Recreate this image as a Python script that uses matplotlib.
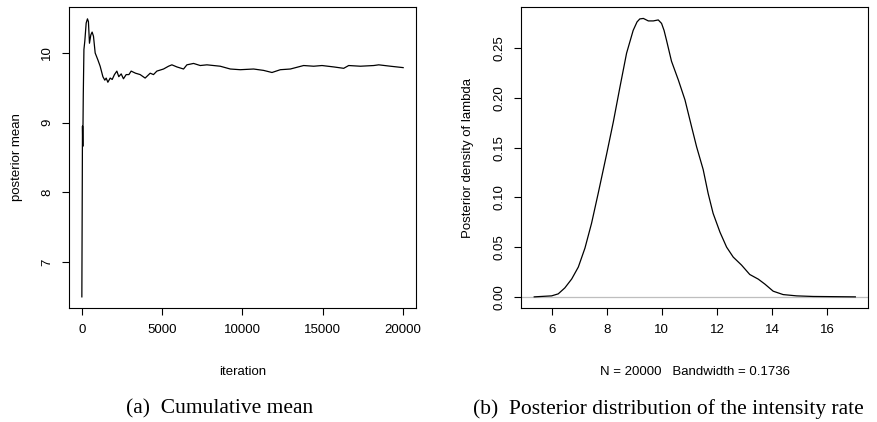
import matplotlib
matplotlib.use("Agg")
import matplotlib.pyplot as plt

# (a) cumulative posterior mean
iterations = [1, 40, 60, 90, 130, 185, 270, 350, 410, 475, 560, 640, 725, 830,
              1000, 1140, 1310, 1430, 1515, 1620, 1765, 1890, 2030, 2180, 2300,
              2450, 2590, 2760, 2930, 3070, 3340, 3630, 3940, 4255, 4460, 4670,
              5085, 5395, 5605, 5915, 6330, 6540, 6955, 7370, 7785, 8200, 8615,
              9240, 9860, 10690, 11315, 11835, 12355, 12980, 13805, 14430,
              14950, 15675, 16300, 16610, 17340, 18170, 18480, 19210, 20000]
cum_mean = [6.50, 8.95, 8.66, 9.40, 10.05, 10.17, 10.43, 10.49, 10.45, 10.14,
            10.26, 10.30, 10.24, 10.00, 9.90, 9.81, 9.66, 9.61, 9.64, 9.58,
            9.64, 9.62, 9.69, 9.74, 9.66, 9.70, 9.63, 9.69, 9.69, 9.74, 9.71,
            9.69, 9.64, 9.71, 9.69, 9.74, 9.77, 9.81, 9.83, 9.80, 9.77, 9.83,
            9.85, 9.82, 9.83, 9.82, 9.81, 9.77, 9.76, 9.77, 9.75, 9.72, 9.76,
            9.77, 9.82, 9.81, 9.82, 9.80, 9.78, 9.82, 9.81, 9.82, 9.83, 9.81,
            9.79]

# (b) posterior density of lambda
lam = [5.37, 6.00, 6.24, 6.48, 6.73, 6.97, 7.21, 7.45, 7.69, 8.00, 8.24, 8.48,
       8.72, 8.96, 9.10, 9.20, 9.33, 9.51, 9.69, 9.87, 9.99, 10.08, 10.17,
       10.35, 10.60, 10.84, 11.08, 11.26, 11.50, 11.68, 11.86, 12.11, 12.35,
       12.59, 12.89, 13.19, 13.50, 13.74, 14.04, 14.40, 14.89, 15.49, 17.02]
dens = [0.0, 0.001, 0.003, 0.009, 0.018, 0.030, 0.049, 0.074, 0.104, 0.144,
        0.176, 0.211, 0.245, 0.268, 0.2765, 0.2795, 0.2800, 0.2775, 0.2775,
        0.2785, 0.275, 0.268, 0.258, 0.237, 0.218, 0.198, 0.171, 0.151,
        0.128, 0.104, 0.084, 0.065, 0.050, 0.040, 0.032, 0.0225, 0.0178,
        0.0128, 0.0057, 0.0023, 0.001, 0.0004, 0.0]

x_ticks_a = [0, 5000, 10000, 15000, 20000]
y_ticks_a = [7, 8, 9, 10]
x_ticks_b = [6, 8, 10, 12, 14, 16]
y_ticks_b = [0.00, 0.05, 0.10, 0.15, 0.20, 0.25]

plt.rcParams['font.family'] = ['Liberation Sans', 'DejaVu Sans']
plt.rcParams['font.size'] = 9.5

fig = plt.figure(figsize=(8.78, 4.22), dpi=100)
ax1 = fig.add_axes([69 / 878, 1 - 308 / 422, 347 / 878, 301 / 422])
ax2 = fig.add_axes([521 / 878, 1 - 308 / 422, 347 / 878, 301 / 422])


def r_style(ax):
    for s in ax.spines.values():
        s.set_linewidth(0.8)
        s.set_color('black')
    ax.tick_params(direction='out', length=5, width=0.8, pad=6.5)
    for lab in ax.get_yticklabels():
        lab.set_rotation(90)
        lab.set_va('center')


ax1.plot(iterations, cum_mean, color='black', lw=0.9)
ax1.set_xlim(-799, 20800)
ax1.set_ylim(6.34, 10.66)
ax1.set_xticks(x_ticks_a)
ax1.set_xticklabels([str(t) for t in x_ticks_a])
ax1.set_yticks(y_ticks_a)
ax1.set_yticklabels([str(t) for t in y_ticks_a])
ax1.set_xlabel('iteration', va='center')
ax1.set_ylabel('posterior mean', va='center')
ax1.xaxis.set_label_coords(0.5, (308 - 372) / 301)
ax1.yaxis.set_label_coords((17 - 69) / 347, 0.5)
r_style(ax1)

ax2.axhline(0, color='#bebebe', lw=0.9)
ax2.plot(lam, dens, color='black', lw=0.9)
ax2.set_xlim(4.89, 17.48)
ax2.set_ylim(-0.0112, 0.2915)
ax2.set_xticks(x_ticks_b)
ax2.set_xticklabels([str(t) for t in x_ticks_b])
ax2.set_yticks(y_ticks_b)
ax2.set_yticklabels(['%.2f' % t for t in y_ticks_b])
ax2.set_xlabel('N = 20000   Bandwidth = 0.1736', va='center')
ax2.set_ylabel('Posterior density of lambda', va='center')
ax2.xaxis.set_label_coords(0.5, (308 - 372) / 301)
ax2.yaxis.set_label_coords((468 - 521) / 347, 0.5)
r_style(ax2)

cap_font = ['Liberation Serif', 'DejaVu Serif']
fig.text(220 / 878, 1 - 409 / 422, '(a)  Cumulative mean', ha='center',
         va='center', fontsize=15.5, family=cap_font)
fig.text(668 / 878, 1 - 409 / 422, '(b)  Posterior distribution of the intensity rate',
         ha='center', va='center', fontsize=15.5, family=cap_font)

fig.savefig('out.png', dpi=100)
